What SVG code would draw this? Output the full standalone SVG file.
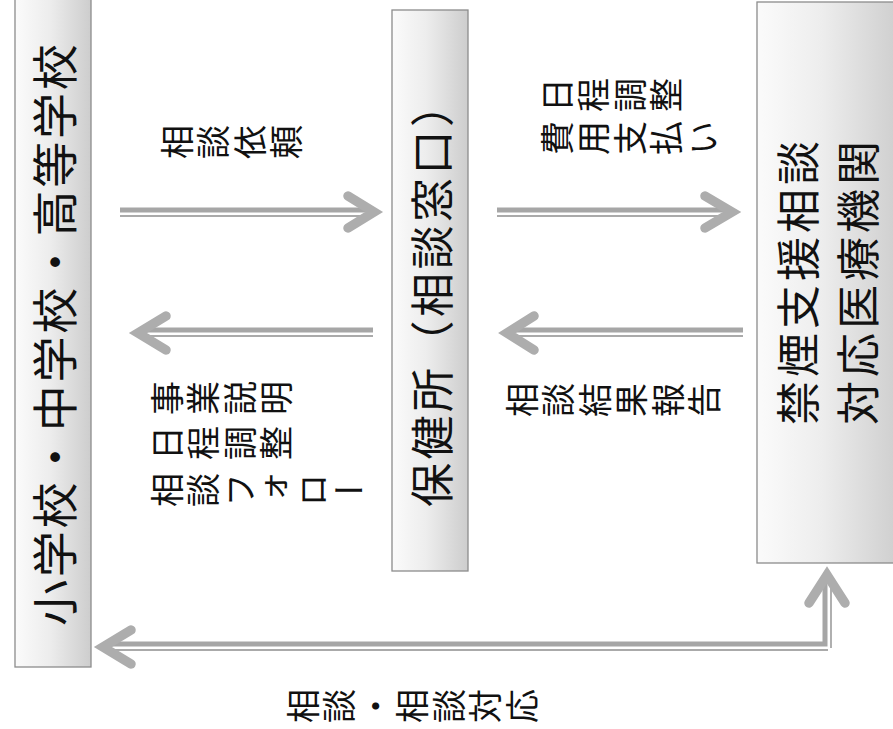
<svg xmlns="http://www.w3.org/2000/svg" width="893" height="729" viewBox="0 0 893 729">
<defs>
<linearGradient id="boxfill" x1="0" y1="0" x2="1" y2="0">
<stop offset="0" stop-color="#fbfbfb"/>
<stop offset="0.45" stop-color="#ededed"/>
<stop offset="1" stop-color="#cdcdcd"/>
</linearGradient>
<style>
.box{fill:url(#boxfill);stroke:#8c8c8c;stroke-width:1.3}
.big{font-family:"Noto Sans CJK JP","Noto Sans CJK SC",sans-serif;font-size:44px;fill:#111;dominant-baseline:central}
.lbl{font-family:"Noto Sans CJK JP","Noto Sans CJK SC",sans-serif;font-size:34px;fill:#111;writing-mode:vertical-rl;letter-spacing:2.5px}
.shaft{fill:none;stroke:#a6a6a6;stroke-width:5}
.thin{fill:none;stroke:#8e8e8e;stroke-width:1.4}
.head{fill:none;stroke:#adadad;stroke-width:9.5;stroke-linecap:round;stroke-linejoin:miter}
</style>
</defs>
<rect width="893" height="729" fill="#ffffff"/>

<g id="school">
<rect class="box" x="15" y="-5" width="76" height="672"/>
<text class="big" style="font-size:46px;letter-spacing:2.7px" transform="translate(52,626) rotate(-90)" x="0" y="0">小学校・中学校・高等学校</text>
</g>

<g id="hokenjo">
<rect class="box" x="392" y="10" width="76" height="561"/>
<text class="big" style="letter-spacing:3.5px" transform="translate(430,507) rotate(-90)" x="0" y="0">保健所（相談窓口）</text>
</g>

<g id="iryokikan">
<rect class="box" x="757" y="2" width="145" height="561"/>
<text class="big" style="letter-spacing:4px" transform="translate(796,425) rotate(-90)" x="0" y="0">禁煙支援相談</text>
<text class="big" style="letter-spacing:4px" transform="translate(856,425) rotate(-90)" x="0" y="0">対応医療機関</text>
</g>

<g id="connectors">
<!-- school -> hokenjo -->
<line class="shaft" x1="120" y1="210" x2="372" y2="210"/>
<line class="thin" x1="120" y1="216" x2="370" y2="216"/>
<polyline class="head" points="348,196 374,212 348,228"/>
<!-- hokenjo -> school -->
<line class="shaft" x1="140" y1="330" x2="373" y2="330"/>
<line class="thin" x1="142" y1="336" x2="373" y2="336"/>
<polyline class="head" points="166,316 138,333 166,350"/>
<!-- hokenjo -> iryokikan -->
<line class="shaft" x1="497" y1="210" x2="731" y2="210"/>
<line class="thin" x1="497" y1="216" x2="729" y2="216"/>
<polyline class="head" points="705,196 732,212 705,228"/>
<!-- iryokikan -> hokenjo -->
<line class="shaft" x1="510" y1="330" x2="743" y2="330"/>
<line class="thin" x1="512" y1="336" x2="743" y2="336"/>
<polyline class="head" points="534,316 507,333 534,350"/>
<!-- school <-> iryokikan -->
<polyline class="shaft" points="106,644 825,644 825,576"/>
<line class="thin" x1="108" y1="650" x2="828" y2="650"/>
<line class="thin" x1="831" y1="588" x2="831" y2="648"/>
<polyline class="head" points="131,630 103,647 131,664"/>
<polyline class="head" points="809,603 827,575 845,603"/>
</g>

<g id="labels">
<text class="lbl" transform="translate(160,142) rotate(-90)" x="0" y="0">相談依頼</text>
<text class="lbl" transform="translate(150,398) rotate(-90)" x="0" y="0">事業説明</text>
<text class="lbl" transform="translate(150,443) rotate(-90)" x="0" y="0">日程調整</text>
<text class="lbl" transform="translate(150,490) rotate(-90)" x="0" y="0">相談フォロー</text>
<text class="lbl" transform="translate(540,95) rotate(-90)" x="0" y="0">日程調整</text>
<text class="lbl" transform="translate(540,138) rotate(-90)" x="0" y="0">費用支払い</text>
<text class="lbl" transform="translate(505,400) rotate(-90)" x="0" y="0">相談結果報告</text>
<text class="lbl" transform="translate(286,706) rotate(-90)" x="0" y="0">相談・相談対応</text>
</g>
</svg>
